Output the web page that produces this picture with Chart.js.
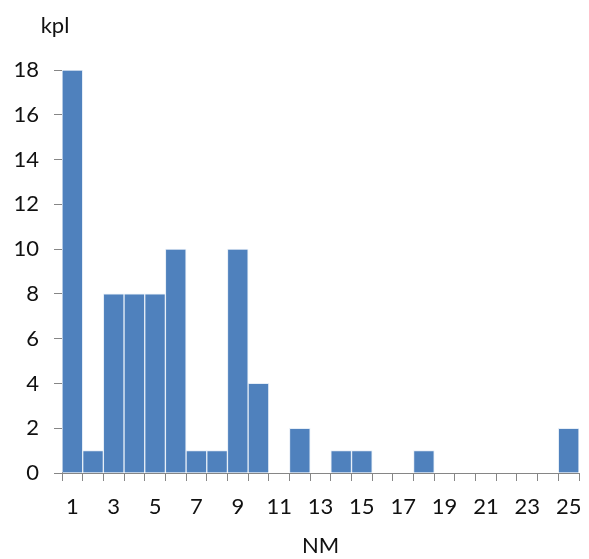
<!DOCTYPE html>
<html><head><meta charset="utf-8">
<script src="https://cdn.jsdelivr.net/npm/chart.js@4/dist/chart.umd.min.js"></script>
<style>html,body{margin:0;padding:0;background:#fff}#wrap{width:589px;height:559px}</style>
</head><body><div id="wrap"><canvas id="c" width="589" height="559"></canvas></div>
<script>
const categories = ['1','2','3','4','5','6','7','8','9','10','11','12','13','14','15','16','17','18','19','20','21','22','23','24','25'];
const counts = [18,1,8,8,8,10,1,1,10,4,0,2,0,1,1,0,0,1,0,0,0,0,0,0,2];
const yTicks = [0,2,4,6,8,10,12,14,16,18];
const yTitle = 'kpl';
const xTitle = 'NM';

const FONT = 'Lato, "Open Sans", sans-serif';
const axisGray = '#868686';
const textColor = '#111111';

const yLabelPlugin = {
  id: 'yLabel',
  afterDraw(chart) {
    const ctx = chart.ctx, a = chart.chartArea;
    ctx.save();
    ctx.font = '22px ' + FONT;
    ctx.fillStyle = textColor;
    ctx.textAlign = 'center';
    ctx.textBaseline = 'middle';
    ctx.fillText(yTitle, a.left - 7, a.top - 44);
    ctx.restore();
  }
};

new Chart(document.getElementById('c'), {
  type: 'bar',
  data: {
    labels: categories,
    datasets: [{
      data: counts,
      backgroundColor: '#4F81BD',
      borderColor: '#E6EEF7',
      borderWidth: 1,
      barPercentage: 1,
      categoryPercentage: 1
    }]
  },
  options: {
    responsive: false,
    animation: false,
    layout: { padding: { left: 0, right: 10, top: 70, bottom: 0 } },
    plugins: { legend: { display: false }, tooltip: { enabled: false } },
    scales: {
      x: {
        offset: true,
        grid: { offset: true, drawOnChartArea: false, drawTicks: true, tickLength: 8, color: axisGray },
        border: { color: axisGray },
        ticks: {
          autoSkip: false, maxRotation: 0, color: textColor, padding: 13,
          font: { family: FONT, size: 22 },
          callback: function(v, i) { return i % 2 === 0 ? categories[i] : ''; }
        },
        title: { display: true, text: xTitle, color: textColor, font: { family: FONT, size: 22 }, padding: { top: 0, bottom: 0 } },
        afterFit(s) { s.height = 86; s.paddingRight = 0; s.paddingLeft = 0; }
      },
      y: {
        min: 0, max: 18,
        afterBuildTicks(s) { s.ticks = yTicks.map(v => ({ value: v })); },
        grid: { drawOnChartArea: false, tickLength: 8, color: axisGray },
        border: { color: axisGray },
        ticks: { color: textColor, padding: 15, font: { family: FONT, size: 22 } },
        afterFit(s) { s.width = 62; s.paddingTop = 0; s.paddingBottom = 0; }
      }
    }
  },
  plugins: [yLabelPlugin]
});
</script></body></html>
